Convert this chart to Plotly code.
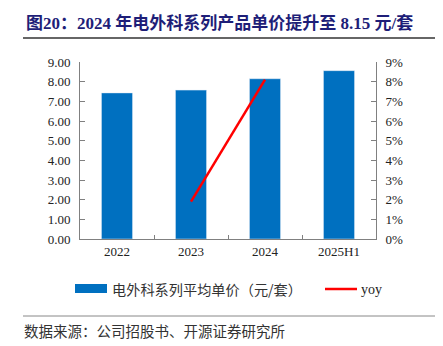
import plotly.graph_objects as go

categories = ["2022", "2023", "2024", "2025H1"]
price = [7.43, 7.57, 8.15, 8.56]
yoy = [None, 0.019, 0.081, None]
left_ticks = [0, 1, 2, 3, 4, 5, 6, 7, 8, 9]
right_ticks = [0, 0.01, 0.02, 0.03, 0.04, 0.05, 0.06, 0.07, 0.08, 0.09]

title_text = "图20：2024 年电外科系列产品单价提升至 8.15 元/套"
bar_name = "电外科系列平均单价（元/套）"
line_name = "yoy"
source_text = "数据来源：公司招股书、开源证券研究所"

W, H = 443, 346
L, R, T, B = 80, 67, 62, 107
PW, PH = W - L - R, H - T - B


def px(x):
    return (x - L) / PW


def py(y):
    return (H - B - y) / PH


BLUE = "#0070C0"
RED = "#FF0000"
SERIF = "Liberation Serif, Noto Sans CJK SC"
CJK = "Noto Sans CJK SC, Liberation Serif"

fig = go.Figure()
fig.add_trace(go.Bar(x=categories, y=price, name=bar_name, marker_color=BLUE,
                     width=0.42, showlegend=False))
fig.add_trace(go.Scatter(x=categories, y=yoy, name=line_name, yaxis="y2", mode="lines",
                         line=dict(color=RED, width=2.5), showlegend=False))

fig.update_layout(
    width=W, height=H,
    margin=dict(l=L, r=R, t=T, b=B),
    paper_bgcolor="white", plot_bgcolor="white",
    xaxis=dict(showline=True, linecolor="#808080", linewidth=1, ticks="inside",
               tickson="boundaries", ticklen=4, tickcolor="#808080",
               tickfont=dict(family=SERIF, size=13, color="#222"), showgrid=False),
    yaxis=dict(range=[0, 9], tickvals=left_ticks, tickformat=".2f", showline=True,
               linecolor="#808080", ticks="inside", ticklen=5, tickcolor="#808080",
               tickfont=dict(family=SERIF, size=13, color="#222"), showgrid=False,
               zeroline=False, ticklabelstandoff=6),
    yaxis2=dict(range=[0, 0.09], tickvals=right_ticks, tickformat=".0%", overlaying="y",
                side="right", showline=True, linecolor="#808080", ticks="inside", ticklen=5,
                tickcolor="#808080", tickfont=dict(family=SERIF, size=13, color="#222"),
                showgrid=False, zeroline=False, ticklabelstandoff=6),
    font=dict(family=SERIF),
)

shapes = [
    dict(type="line", xref="paper", yref="paper", x0=px(23), x1=px(435), y0=py(38), y1=py(38),
         line=dict(color="#333333", width=1.5)),
    dict(type="line", xref="paper", yref="paper", x0=px(23), x1=px(435), y0=py(316), y1=py(316),
         line=dict(color="#888888", width=1)),
    dict(type="rect", xref="paper", yref="paper", x0=px(75), x1=px(107), y0=py(293), y1=py(284),
         fillcolor=BLUE, line=dict(width=0)),
    dict(type="line", xref="paper", yref="paper", x0=px(325), x1=px(357), y0=py(289), y1=py(289),
         line=dict(color=RED, width=2.5)),
]
annotations = [
    dict(text="<b>" + title_text + "</b>", xref="paper", yref="paper", x=px(24), y=py(23),
         xanchor="left", yanchor="middle", showarrow=False,
         font=dict(family=SERIF, size=17, color="#1E1E78")),
    dict(text=bar_name, xref="paper", yref="paper", x=px(110), y=py(289),
         xanchor="left", yanchor="middle", showarrow=False,
         font=dict(family=CJK, size=14.2, color="#333")),
    dict(text=line_name, xref="paper", yref="paper", x=px(359), y=py(289),
         xanchor="left", yanchor="middle", showarrow=False,
         font=dict(family=SERIF, size=14, color="#222")),
    dict(text=source_text, xref="paper", yref="paper", x=px(22), y=py(330),
         xanchor="left", yanchor="middle", showarrow=False,
         font=dict(family=CJK, size=14.5, color="#333")),
]
fig.update_layout(shapes=shapes, annotations=annotations)

fig.write_html("out.html")
